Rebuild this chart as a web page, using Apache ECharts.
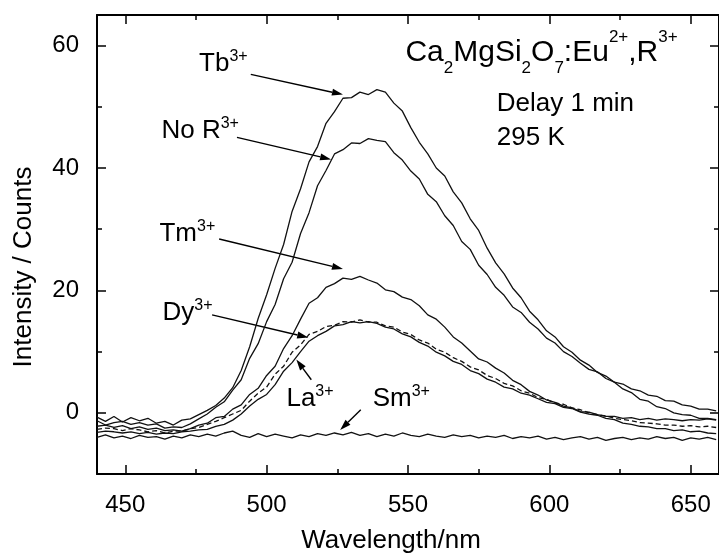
<!DOCTYPE html>
<html>
<head>
<meta charset="utf-8">
<script src="https://cdn.jsdelivr.net/npm/echarts@6/dist/echarts.min.js"></script>
<style>html,body{margin:0;padding:0;background:#fff;}#c{width:719px;height:553px;}</style>
</head>
<body>
<div id="c"></div>
<script>
// ---------- data ----------
const wavelengths = [440,443,446,449,452,455,458,461,464,467,470,473,476,479,482,485,488,491,494,497,500,503,506,509,512,515,518,521,524,527,530,533,536,539,542,545,548,551,554,557,560,563,566,569,572,575,578,581,584,587,590,593,596,599,602,605,608,611,614,617,620,623,626,629,632,635,638,641,644,647,650,653,656,659];

const tbCounts = [-0.7,-1.4,-0.6,-1.5,-0.8,-1.3,-0.9,-1.7,-1.4,-2.0,-1.2,-1.0,-0.3,0.4,1.2,2.4,4.1,6.9,10.8,15.4,19.3,23.6,27.5,32.9,36.6,41.0,43.5,47.3,49.2,51.4,51.5,52.4,52.0,52.8,52.4,50.6,49.3,46.6,44.2,42.3,40.0,38.7,36.1,34.3,31.7,29.8,26.9,24.5,22.7,20.4,18.8,16.6,15.2,13.4,12.4,10.8,9.9,8.6,7.8,6.6,6.0,5.0,4.7,3.9,3.6,2.9,2.7,2.0,1.9,1.3,1.1,0.6,0.6,0.3];

const noRCounts = [-1.3,-2.0,-1.6,-1.4,-1.9,-1.6,-2.0,-1.8,-2.5,-2.3,-2.4,-1.8,-1.0,-0.2,0.9,1.8,3.7,5.4,8.9,11.3,14.9,17.7,21.9,24.6,29.3,32.7,37.1,39.6,42.3,43.0,44.1,44.0,44.8,44.5,44.3,42.5,41.3,39.5,38.2,35.7,34.5,32.2,30.6,28.0,26.7,24.1,22.6,20.5,19.2,17.3,16.4,14.8,13.7,12.2,11.4,10.0,9.2,8.1,7.1,6.7,5.6,5.0,3.9,3.3,2.2,1.9,1.0,0.7,0.0,-0.3,-0.4,-0.9,-0.9,-1.1];

const tmCounts = [-2.2,-2.0,-2.4,-2.1,-2.6,-2.3,-2.7,-2.5,-2.9,-2.8,-3.0,-2.6,-2.0,-1.7,-0.8,-0.6,0.6,1.3,3.0,4.0,6.1,7.6,10.5,12.6,15.3,17.9,18.8,20.5,21.1,22.0,21.8,22.3,21.7,21.2,20.1,19.8,18.9,18.5,17.5,16.0,15.3,14.0,12.4,11.4,10.1,8.8,8.3,7.3,6.5,5.3,4.6,3.5,2.9,2.1,1.7,1.1,0.8,0.2,0.1,-0.3,-0.6,-0.6,-0.9,-0.8,-1.1,-0.9,-1.2,-1.0,-1.1,-1.3,-1.1,-1.2,-1.0,-1.2];

const dyCounts = [-2.7,-2.5,-2.6,-2.9,-2.6,-2.8,-3.1,-2.9,-3.3,-3.0,-3.0,-2.6,-2.4,-1.9,-1.4,-0.8,-0.2,0.4,1.9,3.2,4.2,6.3,7.6,9.9,11.1,12.8,13.3,14.1,14.3,14.9,14.8,15.2,14.8,14.8,14.2,14.0,13.2,12.8,11.9,11.4,10.4,9.9,9.0,8.4,7.5,7.0,6.1,5.6,4.8,4.4,3.6,3.2,2.5,2.2,1.6,1.4,0.8,0.5,0.0,-0.3,-0.5,-0.9,-1.1,-1.3,-1.6,-1.7,-1.8,-2.0,-2.0,-2.2,-2.1,-2.3,-2.2,-2.4];

const laCounts = [-3.2,-3.0,-3.1,-3.3,-3.1,-3.4,-3.2,-3.5,-3.3,-3.4,-3.1,-3.0,-2.8,-2.7,-2.2,-1.9,-1.2,-0.2,1.1,2.2,3.0,4.6,6.8,8.2,10.0,11.7,12.6,13.3,14.2,14.4,14.9,14.7,14.9,14.6,14.0,13.7,12.9,12.4,11.5,10.9,9.9,9.3,8.4,7.9,6.9,6.4,5.5,5.0,4.2,3.9,3.2,2.9,2.3,1.7,1.5,0.9,0.7,0.1,-0.2,-0.4,-0.9,-1.1,-1.7,-1.9,-2.2,-2.3,-2.6,-2.6,-2.9,-2.8,-3.1,-3.0,-3.3,-3.4];

const smCounts = [-4.0,-3.6,-4.1,-3.8,-4.2,-3.7,-4.0,-3.9,-4.3,-3.8,-4.1,-3.6,-3.9,-3.5,-3.8,-3.3,-3.0,-3.7,-4.0,-3.4,-3.9,-3.5,-3.8,-4.1,-3.6,-3.9,-3.4,-3.7,-3.3,-3.6,-3.2,-3.7,-3.4,-3.9,-3.5,-3.8,-3.3,-3.7,-3.9,-3.5,-3.8,-4.0,-3.6,-3.9,-3.7,-4.1,-3.8,-4.0,-3.7,-4.2,-3.9,-4.1,-3.8,-4.3,-4.0,-4.4,-4.1,-3.9,-4.3,-4.0,-4.5,-4.2,-4.0,-4.4,-4.1,-4.3,-3.9,-4.2,-4.0,-4.5,-4.1,-4.3,-4.0,-4.4];

const xMajorTicks = [450, 500, 550, 600, 650];
const xMinorTicks = [475, 525, 575, 625];
const yMajorTicks = [0, 20, 40, 60];
const yMinorTicks = [10, 30, 50];

const seriesNames = ['Tb3+', 'No R3+', 'Tm3+', 'Dy3+', 'La3+', 'Sm3+'];
const seriesValues = [tbCounts, noRCounts, tmCounts, dyCounts, laCounts, smCounts];

// ---------- styling / layout ----------
const FONT = '"Liberation Sans", Arial, Helvetica, sans-serif';
const INK = '#111';
const X_MIN = 440, X_MAX = 660, Y_MIN = -10, Y_MAX = 65;

function mkX(pos, vals, len, labels, line) {
  return {
    type: 'value', position: pos, min: X_MIN, max: X_MAX,
    axisLine: { show: line, onZero: false, lineStyle: { color: '#000', width: 2 } },
    axisTick: { show: true, inside: true, length: len, customValues: vals, lineStyle: { color: '#000', width: 1.5 } },
    axisLabel: { show: labels, customValues: vals, fontSize: 24, color: '#000', margin: 19, fontFamily: FONT },
    splitLine: { show: false }, minorTick: { show: false }
  };
}
function mkY(pos, vals, len, labels, line) {
  return {
    type: 'value', position: pos, min: Y_MIN, max: Y_MAX,
    axisLine: { show: line, onZero: false, lineStyle: { color: '#000', width: 2 } },
    axisTick: { show: true, inside: true, length: len, customValues: vals, lineStyle: { color: '#000', width: 1.5 } },
    axisLabel: { show: labels, customValues: vals, fontSize: 24, color: '#000', margin: 18, fontFamily: FONT },
    splitLine: { show: false }, minorTick: { show: false }
  };
}

const chart = echarts.init(document.getElementById('c'), null, { renderer: 'canvas' });

chart.setOption({
  animation: false,
  backgroundColor: '#fff',
  grid: { left: 97, top: 15, right: -5, bottom: 79 },
  xAxis: [
    mkX('bottom', xMajorTicks, 9, true, true),
    mkX('bottom', xMinorTicks, 5, false, false),
    mkX('top', xMajorTicks, 9, false, true),
    mkX('top', xMinorTicks, 5, false, false)
  ],
  yAxis: [
    mkY('left', yMajorTicks, 9, true, true),
    mkY('left', yMinorTicks, 5, false, false),
    mkY('right', yMajorTicks, 9, false, true),
    mkY('right', yMinorTicks, 5, false, false)
  ],
  series: seriesNames.map((name, k) => ({
    type: 'line', name: name, xAxisIndex: 0, yAxisIndex: 0,
    data: wavelengths.map((w, i) => [w, seriesValues[k][i]]),
    showSymbol: false, symbol: 'none', silent: true,
    lineStyle: { color: INK, width: 1.3, type: name === 'Dy3+' ? [5, 3] : 'solid' }
  }))
});

// ---------- annotations (anchored in data coordinates) ----------
const px = (p) => chart.convertToPixel({ gridIndex: 0 }, p);

const labelDefs = [
  { main: 'Tb', sup: '3+', at: [476.1, 55.6] },
  { main: 'No R', sup: '3+', at: [462.8, 44.6] },
  { main: 'Tm', sup: '3+', at: [462.1, 27.8] },
  { main: 'Dy', sup: '3+', at: [463.2, 14.9] },
  { main: 'La', sup: '3+', at: [507.0, 0.8] },
  { main: 'Sm', sup: '3+', at: [537.5, 0.8] }
];
const arrowDefs = [
  { from: [494.4, 55.3], to: [527.0, 52.0] },
  { from: [489.5, 45.0], to: [522.8, 41.4] },
  { from: [483.2, 28.4], to: [527.0, 23.5] },
  { from: [480.7, 16.0], to: [514.7, 12.3] },
  { from: [515.8, 5.4], to: [510.5, 8.7] },
  { from: [533.3, 0.5], to: [526.0, -2.8] }
];

const graphics = [];
labelDefs.forEach(d => {
  const p = px(d.at);
  graphics.push({
    type: 'text', x: p[0], y: p[1] - 24, silent: true,
    style: {
      text: '{m|' + d.main + '}{s|' + d.sup + '}',
      align: 'left', verticalAlign: 'top', fill: '#000',
      rich: {
        m: { fontSize: 26, lineHeight: 30, fontFamily: FONT, fill: '#000' },
        s: { fontSize: 16, lineHeight: 13, verticalAlign: 'top', fontFamily: FONT, fill: '#000' }
      }
    }
  });
});

arrowDefs.forEach(a => {
  const p0 = px(a.from), p1 = px(a.to);
  const dx = p1[0] - p0[0], dy = p1[1] - p0[1];
  const L = Math.sqrt(dx * dx + dy * dy);
  const ux = dx / L, uy = dy / L;
  const hl = 11, hw = 3.5;
  const bx = p1[0] - ux * hl, by = p1[1] - uy * hl;
  graphics.push({
    type: 'line', silent: true,
    shape: { x1: p0[0], y1: p0[1], x2: bx, y2: by },
    style: { stroke: '#000', lineWidth: 1.4 }
  });
  graphics.push({
    type: 'polygon', silent: true,
    shape: { points: [[p1[0], p1[1]], [bx - uy * hw, by + ux * hw], [bx + uy * hw, by - ux * hw]] },
    style: { fill: '#000' }
  });
});

// compound title
const tp = px([549.1, 57.2]);
graphics.push({
  type: 'text', x: tp[0], y: tp[1] - 34.4, silent: true,
  style: {
    text: '{m|Ca}{b|2}{m|MgSi}{b|2}{m|O}{b|7}{m|:Eu}{t|2+}{m|,R}{t|3+}',
    align: 'left', verticalAlign: 'top', fill: '#000',
    rich: {
      m: { fontSize: 30, lineHeight: 48, fontFamily: FONT, fill: '#000' },
      b: { fontSize: 17, lineHeight: 11, verticalAlign: 'bottom', fontFamily: FONT, fill: '#000' },
      t: { fontSize: 17, lineHeight: 35, verticalAlign: 'top', fontFamily: FONT, fill: '#000' }
    }
  }
});

const dp = px([581.4, 49.06]);
graphics.push({ type: 'text', x: dp[0], y: dp[1] - 24, silent: true,
  style: { text: 'Delay 1 min', fontSize: 26, lineHeight: 30, fontFamily: FONT, fill: '#000', align: 'left', verticalAlign: 'top' } });
const kp = px([581.4, 43.5]);
graphics.push({ type: 'text', x: kp[0], y: kp[1] - 24, silent: true,
  style: { text: '295 K', fontSize: 26, lineHeight: 30, fontFamily: FONT, fill: '#000', align: 'left', verticalAlign: 'top' } });

// axis titles
graphics.push({ type: 'text', x: 391, y: 526, silent: true,
  style: { text: 'Wavelength/nm', fontSize: 26, lineHeight: 30, fontFamily: FONT, fill: '#000', align: 'center', verticalAlign: 'top' } });
graphics.push({ type: 'text', x: 24, y: 267, rotation: Math.PI / 2, silent: true,
  style: { text: 'Intensity / Counts', fontSize: 26, lineHeight: 30, fontFamily: FONT, fill: '#000', align: 'center', verticalAlign: 'middle' } });

chart.setOption({ graphic: graphics });
</script>
</body>
</html>
